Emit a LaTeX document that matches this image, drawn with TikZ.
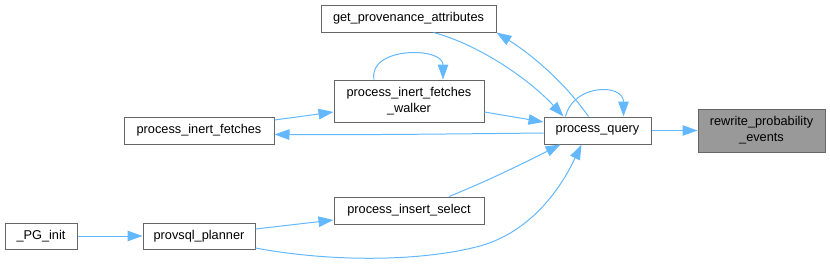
\documentclass[tikz,border=0pt]{standalone}
\usepackage{fontspec}
\setmainfont{Liberation Sans}
\usepackage{tikz}
\usetikzlibrary{arrows.meta}
\definecolor{callColor}{HTML}{63B8FF}
\definecolor{boxBorder}{HTML}{666666}
\definecolor{boxShade}{HTML}{999999}

\begin{document}
\begin{tikzpicture}[x=1pt, y=-1pt,
    fn/.style={draw=boxBorder, fill=white, line width=1pt, inner sep=0pt, align=center,
        font=\fontsize{12.75}{16}\selectfont},
    call/.style={callColor, line width=1pt, -{Triangle[length=15pt, width=10.5pt]}}]
    \useasboundingbox (0,0) rectangle (830,265);
    % functions
    \node[fn, minimum width=175pt, minimum height=27pt] (getprov) at (408.5,18.5) {get\_provenance\_attributes};
    \node[fn, minimum width=150pt, minimum height=42pt] (walker) at (409,101) {process\_inert\_fetches\\\_walker};
    \node[fn, minimum width=150pt, minimum height=27pt] (inert) at (199,130.5) {process\_inert\_fetches};
    \node[fn, minimum width=107pt, minimum height=27pt] (query) at (597.5,130.5) {process\_query};
    \node[fn, fill=boxShade, minimum width=127pt, minimum height=43pt] (rewrite) at (761.5,130.5) {rewrite\_probability\\\_events};
    \node[fn, minimum width=150pt, minimum height=27pt] (insert) at (409,210.5) {process\_insert\_select};
    \node[fn, minimum width=72pt, minimum height=26pt] (pginit) at (41,236) {\_PG\_init};
    \node[fn, minimum width=112pt, minimum height=26pt] (planner) at (199,236) {provsql\_planner};
    % calls
    \draw[call] (query) -- (rewrite);
    \draw[call] ([xshift=25pt]getprov.south) .. controls (480,45) and (530,80) .. ([xshift=-34pt]query.north);
    \draw[call] ([xshift=-9pt]query.north) .. controls (570,90) and (540,60) .. ([xshift=88pt]getprov.south);
    \draw[call] ([xshift=-32pt]query.north) .. controls +(8,-33) and +(0,-33) .. ([xshift=26pt]query.north);
    \draw[call] ([xshift=-35pt]walker.north) .. controls +(-6,-33) and +(0,-33) .. ([xshift=34pt]walker.north);
    \draw[call] ([yshift=10.5pt]inert.east) -- ([yshift=-11pt]walker.west);
    \draw[call] ([yshift=-11pt]walker.east) -- ([yshift=8.5pt]query.west);
    \draw[call] ([yshift=-2.5pt]query.west) .. controls (450,134) and (360,135) .. ([yshift=-4pt]inert.east);
    \draw[call] ([xshift=40pt]insert.north) .. controls (490,180) and (530,160) .. ([xshift=-37pt]query.south);
    \draw[call] ([yshift=7pt]planner.east) -- ([yshift=-9.5pt]insert.west);
    \draw[call] ([yshift=-12pt]planner.east) .. controls (330,262) and (420,262) .. (480,246)
        .. controls (530,232) and (560,190) .. ([xshift=-16pt]query.south);
    \draw[call] (pginit) -- (planner);
\end{tikzpicture}
\end{document}
